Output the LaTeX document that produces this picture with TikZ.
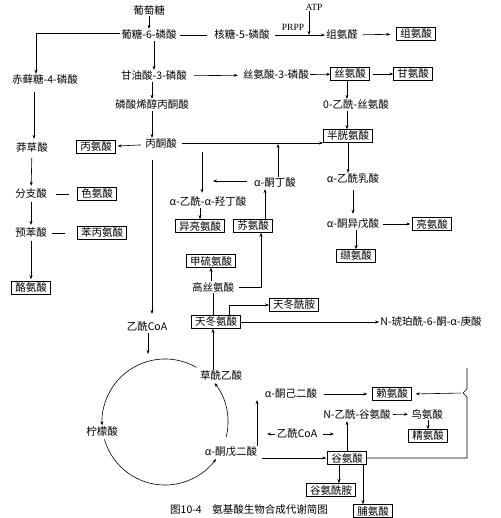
\documentclass[tikz,border=0pt]{standalone}
\usepackage{fontspec}
\setmainfont{Noto Sans CJK SC}
\newfontfamily\latinfont{Liberation Serif}
\usetikzlibrary{positioning}
\usetikzlibrary{calc}
\usetikzlibrary{arrows.meta}

\begin{document}
\begin{tikzpicture}[x=1pt, y=-1pt,
        font=\fontsize{10.5}{12}\selectfont,
        >={Stealth[length=4pt, width=3pt]},
        line width=0.6pt,
        INTER/.style={inner sep=1pt},
        SMALL/.style={inner sep=1pt, font=\latinfont\fontsize{9.5}{11}\selectfont},
        AMINO/.style={rectangle, draw=black, line width=0.8pt, inner xsep=3.5pt, inner ysep=1.5pt},
        ]
    \useasboundingbox (0,0) rectangle (500,518);

    % top: sugars and serine branch
    \node[INTER] (GLC) at (149,10) {葡萄糖};
    \node[INTER] (G6P) at (149,35) {葡糖-6-磷酸};
    \node[INTER] (R5P) at (242,35) {核糖-5-磷酸};
    \node[SMALL] (ATP) at (314,7) {ATP};
    \node[SMALL] (PRPP) at (293,27) {PRPP};
    \node[INTER] (HISAL) at (342,35) {组氨醛};
    \node[AMINO] (HIS) at (416,34) {组氨酸};
    \node[INTER] (E4P) at (45,80) {赤藓糖-4-磷酸};
    \node[INTER] (G3P) at (154,76) {甘油酸-3-磷酸};
    \node[INTER] (S3P) at (276,75) {丝氨酸-3-磷酸};
    \node[AMINO] (SER) at (350,74) {丝氨酸};
    \node[AMINO] (GLY) at (413,74) {甘氨酸};
    \node[INTER] (OAS) at (356,105) {0-乙酰-丝氨酸};
    \node[INTER] (PEP) at (152,105) {磷酸烯醇丙酮酸};
    \node[INTER] (PYR) at (161,144) {丙酮酸};
    \node[AMINO] (ALA) at (96,147) {丙氨酸};

    % aromatic branch
    \node[INTER] (SHIK) at (32,148) {莽草酸};
    \node[INTER] (CHOR) at (31,194) {分支酸};
    \node[AMINO] (TRP) at (97,194) {色氨酸};
    \node[INTER] (PREP) at (31,233) {预苯酸};
    \node[AMINO] (PHE) at (102,233) {苯丙氨酸};
    \node[AMINO] (TYR) at (31,288) {酪氨酸};

    % pyruvate and aspartate families
    \node[AMINO] (CYS) at (348,136) {半胱氨酸};
    \node[INTER] (AKB) at (275,183) {α-酮丁酸};
    \node[INTER] (AAHB) at (208,202) {α-乙酰-α-羟丁酸};
    \node[AMINO] (ILE) at (200,226) {异亮氨酸};
    \node[AMINO] (THR) at (253,226) {苏氨酸};
    \node[AMINO] (MET) at (211,261) {甲硫氨酸};
    \node[INTER] (HSER) at (213,287) {高丝氨酸};
    \node[AMINO] (ASP) at (216,322) {天冬氨酸};
    \node[AMINO] (ASN) at (294,305) {天冬酰胺};
    \node[INTER] (NSK) at (431,322) {N-琥珀酰-6-酮-α-庚酸};
    \node[INTER] (ACL) at (353,179) {α-乙酰乳酸};
    \node[INTER] (AKIV) at (353,224) {α-酮异戊酸};
    \node[AMINO] (LEU) at (432,224) {亮氨酸};
    \node[AMINO] (VAL) at (356,256) {缬氨酸};

    % citric acid cycle and glutamate family
    \node[INTER] (ACOA) at (147,327) {乙酰CoA};
    \node[INTER] (OAA) at (221,376) {草酰乙酸};
    \node[INTER] (CIT) at (102,432) {柠檬酸};
    \node[INTER] (AKG) at (231,452) {α-酮戊二酸};
    \node[INTER] (AKA) at (291,394) {α-酮己二酸};
    \node[AMINO] (LYS) at (392,394) {赖氨酸};
    \node[AMINO] (GLU) at (347,458) {谷氨酸};
    \node[INTER] (ACOAB) at (297,434) {乙酰CoA};
    \node[INTER] (NAG) at (357,415) {N-乙酰-谷氨酸};
    \node[INTER] (ORN) at (427,414) {鸟氨酸};
    \node[AMINO] (ARG) at (428,436) {精氨酸};
    \node[AMINO] (GLN) at (331,490) {谷氨酰胺};
    \node[AMINO] (PRO) at (373,511) {脯氨酸};
    \node[INTER] (CAP) at (249,510) {图10-4\quad 氨基酸生物合成代谢简图};

    \coordinate (TCA) at (165,422);
    \coordinate (TCAIN) at (148,354);
    \coordinate (AKBEND) at (213,181);
    \coordinate (RTOP) at (467,368);
    \coordinate (RTIP) at (463,393);
    \coordinate (ACL1) at (267,434);
    \coordinate (ACR1) at (334,434);

    % connectors, top
    \draw[->] (GLC) -- (G6P);
    \draw[shorten <=2pt, shorten >=6pt] (G6P.east) -- (R5P.west);
    \draw[->, shorten <=4pt] (R5P.east) -- (HISAL.west);
    \draw[->] ([xshift=-5pt]ATP.south) -- ([xshift=-5pt]ATP.south |- HISAL.west);
    \draw[->, shorten <=4pt, shorten >=6pt] (HISAL) -- (HIS);
    \draw[->] ([yshift=2pt]G6P.west) -| ([xshift=-9pt]E4P.north);
    \draw[->] (G3P |- G6P.south) -- (G3P.north);
    \draw[->, shorten <=6pt, shorten >=4pt] (G3P) -- (S3P);
    \draw[->] (S3P) -- (SER);
    \draw[->, shorten <=3pt] (SER) -- (GLY);
    \draw[->] ([xshift=-3pt]SER.south) -- ([xshift=-3pt]SER.south |- OAS.north);
    \draw[->] ([xshift=-3pt]SER.south |- OAS.south) -- ([xshift=-3pt]SER.south |- CYS.north);
    \draw[->] (G3P.south -| PEP) -- (PEP.north);
    \draw[->] (PEP.south) -- (PEP.south |- PYR.north);
    \draw[->, shorten <=3pt, shorten >=2pt] (PYR) -- (ALA);
    \draw[->, shorten <=4pt] ([yshift=1pt]PYR.east) -- ([yshift=1pt]PYR.east -| CYS.west);

    % aromatic branch
    \draw[->, shorten <=6pt, shorten >=3pt] ([xshift=-11pt]E4P.south) -- ([xshift=-11pt]E4P.south |- SHIK.north);
    \draw[->, shorten <=4pt, shorten >=2pt] (SHIK) -- (CHOR);
    \draw[shorten <=8pt, shorten >=8pt] (CHOR) -- (TRP);
    \draw[->, shorten <=2pt, shorten >=2pt] (CHOR) -- (PREP);
    \draw[shorten <=4pt, shorten >=12pt] (PREP) -- (PHE);
    \draw[->, shorten <=2pt, shorten >=2pt] (PREP) -- (TYR);

    % pyruvate and aspartate families
    \draw[->] (CYS.south) -- (CYS.south |- ACL.north);
    \draw[->, shorten <=5pt, shorten >=4pt] (ACL) -- (AKIV);
    \draw[->, shorten <=3pt, shorten >=2pt] (AKIV) -- (LEU);
    \draw[->] (AKIV.south -| VAL) -- (VAL.north);
    \draw[->] ([xshift=3pt]AKB.north) -- ([xshift=3pt]AKB.north |- PYR.east);
    \draw[->, shorten <=6pt] ([yshift=2pt]AKB.west) -- ([yshift=2pt]AKB.west -| AKBEND);
    \draw[->, shorten <=2pt, shorten >=3pt] ([xshift=41pt]PYR.south) -- ([xshift=41pt]PYR.south |- AAHB.north);
    \draw[->] (ILE |- AAHB.south) -- (ILE.north);
    \draw[->] ([xshift=12pt]THR.north) -- ([xshift=12pt]THR.north |- AKB.south);
    \draw[->, shorten <=4pt] (HSER.east) -| ([xshift=8pt]THR.south);
    \draw[->] (MET |- HSER.north) -- (MET.south);
    \draw (HSER.south) -- (HSER.south |- ASP.north);
    \draw[->] ([xshift=13pt]ASP.north) |- (ASN.west);
    \draw[->] (ASP.east) -- (NSK.west);
    \draw[->] (OAA.north -| HSER) -- (ASP.south -| HSER);
    \draw[->, shorten <=10pt, shorten >=7pt] ([xshift=-9pt]PYR.south) -- ([xshift=-9pt]PYR.south |- ACOA.north);

    % citric acid cycle
    \draw[->] (ACOA.south -| TCAIN) -- (TCAIN);
    \draw[->] ($(TCA)+(60:63pt)$) arc[start angle=60, end angle=183, radius=63pt];
    \draw[->] ($(TCA)+(196:63pt)$) arc[start angle=196, end angle=324, radius=63pt];
    \draw[->] ($(TCA)+(346:63pt)$) arc[start angle=346, end angle=398, radius=63pt];

    % glutamate family
    \draw[->] ([xshift=26pt]AKG.north) -- ([xshift=26pt]AKG.north |- AKA.south);
    \draw[->, shorten <=6pt, shorten >=5pt] (AKA) -- (LYS);
    \draw[->, shorten <=4pt, shorten >=1pt] (AKG.east |- GLU.west) -- (GLU.west);
    \draw[->] (ACOAB.west) -- (ACL1);
    \draw[->, shorten <=4pt] (ACOAB.east) -- (ACR1);
    \draw[->] (GLU.north) -- (GLU.north |- NAG.south);
    \draw[->, shorten <=1pt, shorten >=2pt] (NAG) -- (ORN);
    \draw[->] (ORN.south -| ARG) -- (ARG.north);
    \draw[->] ([xshift=-8pt]GLU.south) -- ([xshift=-8pt]GLU.south |- GLN.north);
    \draw[->] ([xshift=16pt]GLU.south) -- ([xshift=16pt]GLU.south |- PRO.north);
    \draw (GLU.east) -| ([yshift=-4pt]RTIP -| RTOP) -- (RTIP) -- ([yshift=4pt]RTIP -| RTOP) -- (RTOP);
    \draw[->, shorten <=2pt, shorten >=4pt] (RTIP) -- (LYS.east);
\end{tikzpicture}
\end{document}
